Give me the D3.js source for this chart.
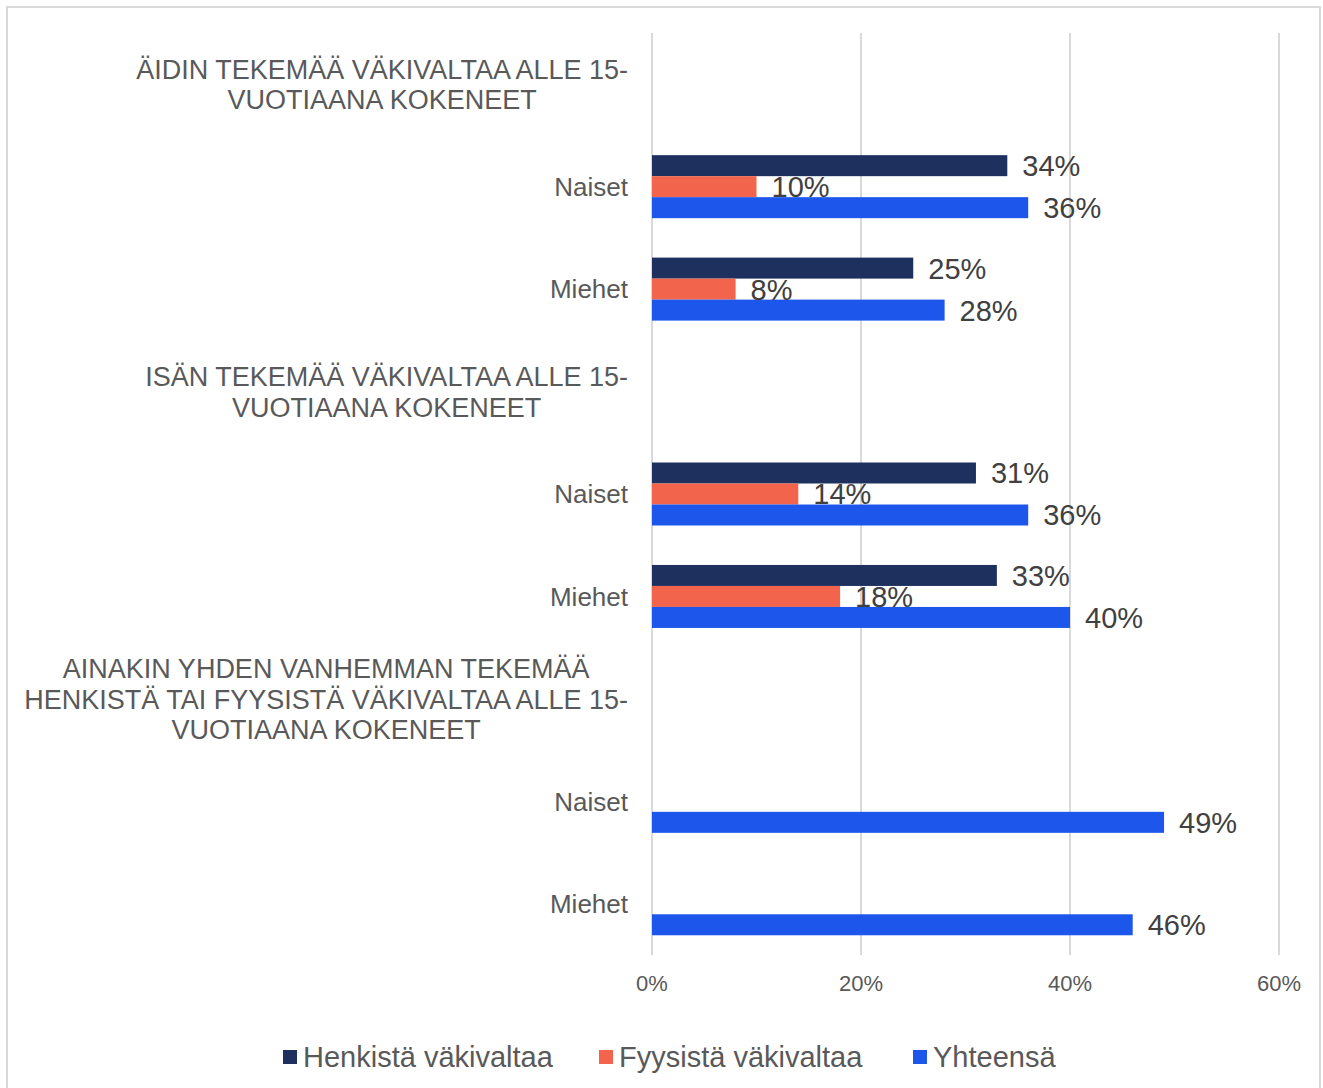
<!DOCTYPE html>
<html lang="fi">
<head>
    <meta charset="UTF-8">
    <title>Väkivalta</title>
    <script src="https://cdn.jsdelivr.net/npm/d3@7/dist/d3.min.js"></script>
    <style>
        body { margin: 0; background: #fff; }
        text { font-family: "Liberation Sans", Arial, sans-serif; }
    </style>
</head>
<body>
    <svg id="svg" width="1323" height="1088"></svg>
    <script>
        // rows from top to bottom; header rows have no values
        const categories = [
            "ÄIDIN TEKEMÄÄ VÄKIVALTAA ALLE 15-|VUOTIAANA KOKENEET",
            "Naiset", "Miehet",
            "ISÄN TEKEMÄÄ VÄKIVALTAA ALLE 15-|VUOTIAANA KOKENEET",
            "Naiset", "Miehet",
            "AINAKIN YHDEN VANHEMMAN TEKEMÄÄ|HENKISTÄ TAI FYYSISTÄ VÄKIVALTAA ALLE 15-|VUOTIAANA KOKENEET",
            "Naiset", "Miehet"
        ]
        const seriesNames = ["Henkistä väkivaltaa", "Fyysistä väkivaltaa", "Yhteensä"]
        const henkista = [null, 34, 25, null, 31, 33, null, null, null]
        const fyysista = [null, 10, 8, null, 14, 18, null, null, null]
        const yhteensa = [null, 36, 28, null, 36, 40, null, 49, 46]
        const xTicks = [0, 20, 40, 60]
        const colors = ["#1d305e", "#f2644b", "#1c56eb"]

        const seriesValues = [henkista, fyysista, yhteensa]
        const rows = categories.map((c, i) => ({id: i, label: c}))

        const svg = d3.select("#svg")
        const margin = {top: 33, left: 652, right: 44, bottom: 133}
        const width = +svg.attr("width"), height = +svg.attr("height")

        // outer frame
        svg.append("rect")
            .attr("x", 7).attr("y", 7)
            .attr("width", 1313).attr("height", 1090)
            .attr("fill", "#fff").attr("stroke", "#d9d9d9").attr("stroke-width", 2)

        const xScale = d3.scaleLinear()
            .domain([0, 60])
            .range([margin.left, width - margin.right])

        const yScale = d3.scaleBand()
            .domain(rows.map(d => d.id))
            .range([margin.top, height - margin.bottom])
            .padding(0)

        const barH = 21
        const innerScale = d3.scaleBand()
            .domain(seriesNames)
            .range([yScale.bandwidth() / 2 - barH * 1.5, yScale.bandwidth() / 2 + barH * 1.5])

        // grid
        svg.append("g").selectAll("line").data(xTicks).join("line")
            .attr("x1", d => xScale(d)).attr("x2", d => xScale(d))
            .attr("y1", margin.top).attr("y2", height - margin.bottom)
            .attr("stroke", "#d9d9d9").attr("stroke-width", 2)

        // tick labels
        svg.append("g").selectAll("text").data(xTicks).join("text")
            .attr("x", d => xScale(d))
            .attr("y", 991)
            .attr("text-anchor", "middle")
            .attr("font-size", 22)
            .attr("fill", "#595959")
            .text(d => d + "%")

        // bars
        const barData = []
        seriesNames.forEach((s, si) => {
            seriesValues[si].forEach((v, i) => {
                if (v != null) barData.push({series: s, si: si, row: i, value: v})
            })
        })

        svg.append("g").selectAll("rect").data(barData).join("rect")
            .attr("x", xScale(0))
            .attr("y", d => yScale(d.row) + innerScale(d.series))
            .attr("width", d => xScale(d.value) - xScale(0))
            .attr("height", innerScale.bandwidth())
            .attr("fill", d => colors[d.si])

        svg.append("g").selectAll("text").data(barData).join("text")
            .attr("x", d => xScale(d.value) + 15)
            .attr("y", d => yScale(d.row) + innerScale(d.series) + innerScale.bandwidth() / 2)
            .attr("dy", "0.36em")
            .attr("font-size", 29)
            .attr("fill", "#404040")
            .text(d => d.value + "%")

        // category labels, wrapped lines centered inside a right-aligned block
        const labelRight = 628
        const lineH = 30.5
        const labelG = svg.append("g")
        rows.forEach(r => {
            const lines = r.label.split("|")
            const cy = yScale(r.id) + yScale.bandwidth() / 2
            const t = labelG.append("text")
                .attr("font-size", lines.length > 1 ? 27 : 26)
                .attr("fill", "#595959")
                .attr("text-anchor", "middle")
            lines.forEach((ln, li) => {
                t.append("tspan")
                    .attr("y", cy + (li - (lines.length - 1) / 2) * lineH)
                    .attr("dy", "0.36em")
                    .text(ln)
            })
            const maxW = d3.max(t.selectAll("tspan").nodes(), n => n.getComputedTextLength())
            t.selectAll("tspan").attr("x", labelRight - maxW / 2)
        })

        // legend
        const legendX = [283, 599, 913]
        const legend = svg.append("g").selectAll("g").data(seriesNames).join("g")
            .attr("transform", (d, i) => `translate(${legendX[i]}, 1057)`)
        legend.append("rect")
            .attr("x", 0).attr("y", -7)
            .attr("width", 14).attr("height", 14)
            .attr("fill", (d, i) => colors[i])
        legend.append("text")
            .attr("x", 20).attr("dy", "0.36em")
            .attr("font-size", 29)
            .attr("fill", "#595959")
            .text(d => d)
    </script>
</body>
</html>
